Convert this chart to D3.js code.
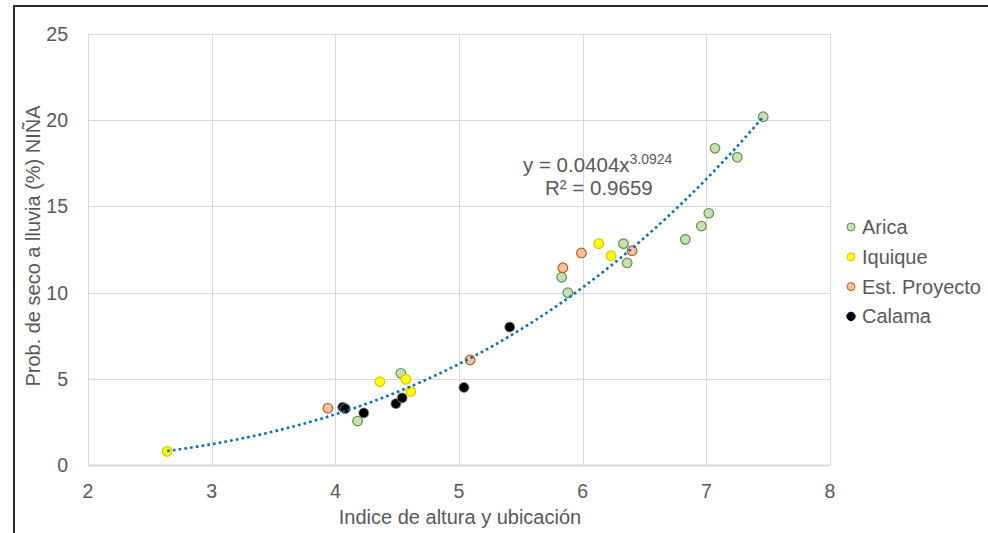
<!DOCTYPE html>
<html>
<head>
<meta charset="utf-8">
<script src="https://cdnjs.cloudflare.com/ajax/libs/d3/7.8.5/d3.min.js"></script>
<style type='text/css'>
  body { margin: 0; background: #fff; }
  svg text { font-family: "Liberation Sans", Arial, sans-serif; fill: #595959; }
  .grid line { stroke: #d9d9d9; stroke-width: 1; shape-rendering: crispEdges; }
</style>
</head>
<body>
<div id='chart'></div>
<script type='text/javascript'>
// series values: [x, y]
var arica = [[7.46,20.2],[7.07,18.37],[7.25,17.85],[7.02,14.6],[6.96,13.86],[6.83,13.09],
             [6.33,12.84],[6.36,11.72],[5.83,10.89],[5.88,9.99],[4.53,5.32],[4.18,2.55]];
var iquique = [[6.13,12.84],[6.23,12.14],[4.36,4.83],[4.57,4.97],[4.61,4.27],[2.64,0.79]];
var estProyecto = [[5.84,11.44],[5.99,12.3],[6.40,12.43],[5.09,6.09],[3.94,3.29]];
var calama = [[4.06,3.35],[4.08,3.27],[4.23,3.02],[4.49,3.56],[4.54,3.89],[5.04,4.5],[5.41,8.0]];

var seriesNames = ['Arica','Iquique','Est. Proyecto','Calama'];
var xTicks = [2,3,4,5,6,7,8];
var yTicks = [0,5,10,15,20,25];
// trendline as printed on the chart
var trendA = 0.0404, trendB = 3.0924, trendR2 = '0.9659';

var W = 988, H = 533;
var svg = d3.select('#chart').append('svg').attr('width', W).attr('height', H);

// outer chart border
svg.append('path').attr('d','M14,' + (H+5) + 'V6H' + (W+5))
  .attr('fill','none').attr('stroke','#262626').attr('stroke-width',2);

var x = d3.scaleLinear().domain([2,8]).range([88,830]);
var y = d3.scaleLinear().domain([0,25]).range([465,34]);

var grid = svg.append('g').attr('class','grid');
grid.selectAll('line.v').data(xTicks).enter().append('line')
  .attr('x1',d => Math.round(x(d))+0.5).attr('x2',d => Math.round(x(d))+0.5)
  .attr('y1',y(25)).attr('y2',y(0));
grid.selectAll('line.h').data(yTicks).enter().append('line')
  .attr('y1',d => Math.round(y(d))+0.5).attr('y2',d => Math.round(y(d))+0.5)
  .attr('x1',x(2)).attr('x2',x(8));
svg.append('line').attr('x1',x(2)).attr('x2',x(8)).attr('y1',y(0)+0.5).attr('y2',y(0)+0.5)
  .attr('stroke','#d9d9d9').attr('stroke-width',2);

svg.append('g').selectAll('text').data(yTicks).enter().append('text')
  .attr('x',68).attr('y',d => y(d)+7).attr('text-anchor','end')
  .style('font-size','19.5px').text(d => d);
svg.append('g').selectAll('text').data(xTicks).enter().append('text')
  .attr('x',d => x(d)).attr('y',498).attr('text-anchor','middle')
  .style('font-size','19.5px').text(d => d);

svg.append('text').attr('x',460).attr('y',524).attr('text-anchor','middle')
  .style('font-size','20px').text('Indice de altura y ubicación');
svg.append('text').attr('transform','translate(40,246) rotate(-90)').attr('text-anchor','middle')
  .style('font-size','20px').text('Prob. de seco a lluvia (%) NIÑA');

var styles = [
  {fill:'#c5e0b4', stroke:'#5f9140', r:4.8},
  {fill:'#ffff00', stroke:'#e0c400', r:4.8},
  {fill:'#f7c0a0', stroke:'#c55a11', r:4.8},
  {fill:'#000000', stroke:'#8c8c8c', r:5}
];
var allSeries = [arica, iquique, estProyecto, calama];

var pts = svg.append('g');
allSeries.forEach(function(s,i) {
  pts.selectAll('circle.s'+i).data(s).enter().append('circle')
    .attr('cx',d => x(d[0])).attr('cy',d => y(d[1])).attr('r',styles[i].r)
    .attr('fill',styles[i].fill).attr('stroke',styles[i].stroke)
    .attr('stroke-width', i===3 ? 0.8 : 1.2);
});

// trendline, drawn over the markers
var tx = d3.range(2.64, 7.461, 0.02);
var line = d3.line().x(d => x(d)).y(d => y(trendA*Math.pow(d,trendB)));
svg.append('path').datum(tx).attr('d',line).attr('fill','none')
  .attr('stroke','#0070c0').attr('stroke-width',2.6).attr('stroke-dasharray','2.6,3.2');

// equation label
var eq = svg.append('text').attr('x',523).attr('y',172).style('font-size','20.5px');
eq.append('tspan').text('y = ' + trendA + 'x');
eq.append('tspan').attr('dy',-8).style('font-size','14px').text(trendB);
svg.append('text').attr('x',545).attr('y',195).style('font-size','20.5px').text('R² = ' + trendR2);

// legend
var leg = svg.append('g').selectAll('g').data(seriesNames).enter().append('g')
  .attr('transform',(d,i) => 'translate(851,' + (227 + i*29.8) + ')');
leg.append('circle').attr('r',(d,i) => i===3 ? 4.2 : 4)
  .attr('fill',(d,i) => styles[i].fill).attr('stroke',(d,i) => i===3 ? '#000' : styles[i].stroke)
  .attr('stroke-width',1);
leg.append('text').attr('x',11).attr('y',7).style('font-size','20px').text(d => d);
</script>
</body>
</html>
